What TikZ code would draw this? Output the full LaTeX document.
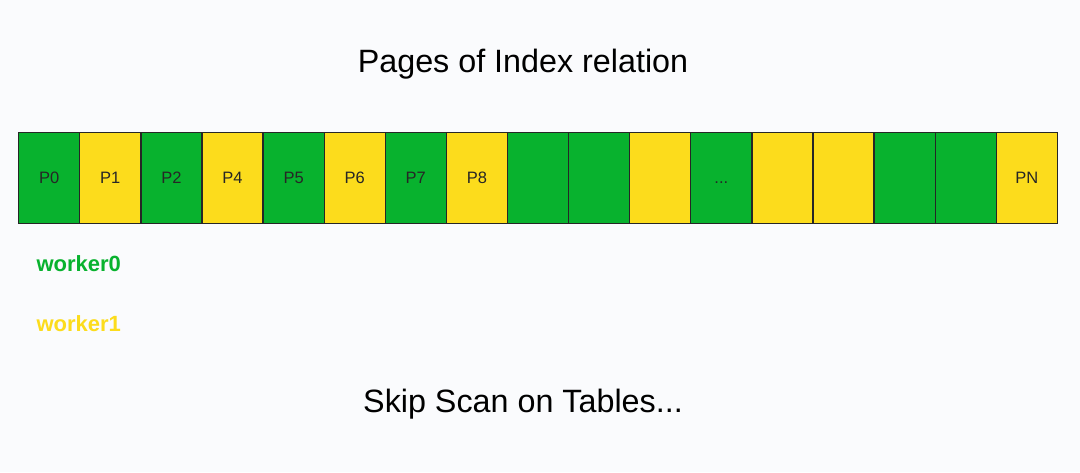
\documentclass[tikz,border=0pt]{standalone}
\usepackage{fontspec}
\setmainfont{Liberation Sans}
\definecolor{pgreen}{HTML}{08B22E}
\definecolor{pyellow}{HTML}{FCDC1C}
\definecolor{bgc}{HTML}{FAFBFD}
\definecolor{edgec}{HTML}{262626}
\newcommand\mydots{\vphantom{P}...}
\begin{document}
\begin{tikzpicture}[x=1pt,y=-1pt,
  cell/.style={draw=edgec,line width=1.3pt,minimum width=61.1pt,minimum height=91pt,inner sep=0pt,anchor=north west,font=\fontsize{16.5}{16.5}\selectfont,text=black!85},
  gcell/.style={cell,fill=pgreen},
  ycell/.style={cell,fill=pyellow},
  big/.style={font=\fontsize{32.3}{32.3}\selectfont,text=black},
  worker/.style={anchor=west,font=\fontsize{22}{22}\selectfont\bfseries}]
\fill[bgc] (0,0) rectangle (1080,472);
\useasboundingbox (0,0) rectangle (1080,472);
\node[big] (title) at (523,64) {Pages of Index relation};
\foreach \i/\s/\t in {0/gcell/P0,1/ycell/P1,2/gcell/P2,3/ycell/P4,4/gcell/P5,5/ycell/P6,6/gcell/P7,7/ycell/P8,8/gcell/,9/gcell/,10/ycell/,11/gcell/\mydots,12/ycell/,13/ycell/,14/gcell/,15/gcell/,16/ycell/PN}
  \node[\s] (c\i) at ({18+61.1*\i},132) {\t};
\node[worker,text=pgreen] (w0) at (33,264) {worker0};
\node[worker,text=pyellow] (w1) at (33,324) {worker1};
\node[big] (foot) at (523,404) {Skip Scan on Tables...};
\end{tikzpicture}
\end{document}
